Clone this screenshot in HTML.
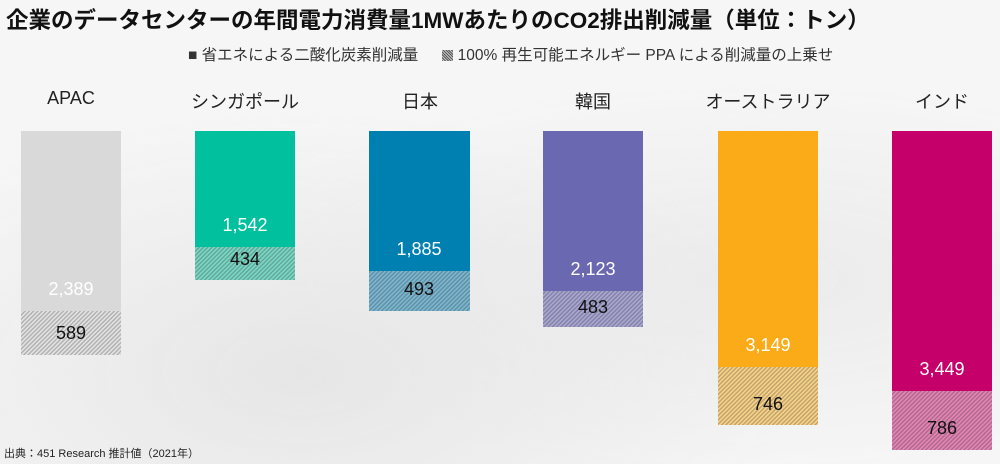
<!DOCTYPE html>
<html><head><meta charset="utf-8"><style>
body{margin:0;width:1000px;height:464px;overflow:hidden;font-family:"Liberation Sans","Noto Sans CJK JP",sans-serif;
background:radial-gradient(ellipse at 30% 80%,#e6e6e6,transparent 50%),radial-gradient(ellipse at 75% 60%,#ebebeb,transparent 50%),#f6f6f6;position:relative}
.t{position:absolute;white-space:nowrap}
.lab{position:absolute;width:100px;text-align:center;font-size:18px}
.cat{position:absolute;width:160px;text-align:center;font-size:18px;color:#222;top:88px}
</style></head><body>
<div class="t" style="left:6px;top:3px;font-size:22.5px;font-weight:bold;color:#111">企業のデータセンターの年間電力消費量1MWあたりのCO2排出削減量（単位：トン）</div>
<div class="t" style="left:188px;top:43px;font-size:15.5px;color:#333">■ 省エネによる二酸化炭素削減量　&nbsp;&nbsp;<span style="display:inline-block;width:11px;height:11px;background:repeating-linear-gradient(45deg,#555 0 1px,#ccc 1px 2px);vertical-align:-1px"></span> 100% 再生可能エネルギー PPA による削減量の上乗せ</div>
<div class="t" style="left:4px;top:445px;font-size:11px;color:#222">出典：451 Research 推計値（2021年）</div>
<svg width="1000" height="464" style="position:absolute;left:0;top:0">
<defs>
<pattern id="h" width="3" height="3" patternUnits="userSpaceOnUse" patternTransform="rotate(45)"><rect width="1.5" height="3" fill="#000" fill-opacity="0.22"/></pattern>
</defs>
<g>
<rect x="21" y="131" width="100" height="180" fill="#d9d9d9"/><rect x="21" y="311" width="100" height="44" fill="#e4e4e4"/><rect x="21" y="311" width="100" height="44" fill="url(#h)"/>
<rect x="195" y="131" width="100" height="116" fill="#00c09e"/><rect x="195" y="247" width="100" height="33" fill="#7dd8c6"/><rect x="195" y="247" width="100" height="33" fill="url(#h)"/>
<rect x="369" y="131" width="101" height="140" fill="#0080b0"/><rect x="369" y="271" width="101" height="40" fill="#7db8d2"/><rect x="369" y="271" width="101" height="40" fill="url(#h)"/>
<rect x="543" y="131" width="100" height="160" fill="#6a68b0"/><rect x="543" y="291" width="100" height="36" fill="#aaa8d4"/><rect x="543" y="291" width="100" height="36" fill="url(#h)"/>
<rect x="718" y="131" width="100" height="236" fill="#fbab18"/><rect x="718" y="367" width="100" height="58" fill="#f8d38a"/><rect x="718" y="367" width="100" height="58" fill="url(#h)"/>
<rect x="892" y="131" width="100" height="260" fill="#c6006a"/><rect x="892" y="391" width="100" height="59" fill="#e487b6"/><rect x="892" y="391" width="100" height="59" fill="url(#h)"/>
</g></svg>
<div class="cat" style="left:-9px">APAC</div>
<div class="cat" style="left:165px">シンガポール</div>
<div class="cat" style="left:340px">日本</div>
<div class="cat" style="left:513px">韓国</div>
<div class="cat" style="left:688px">オーストラリア</div>
<div class="cat" style="left:862px">インド</div>
<div class="lab" style="left:21px;top:279px;color:#fff">2,389</div>
<div class="lab" style="left:21px;top:323px;color:#111">589</div>
<div class="lab" style="left:195px;top:215px;color:#fff">1,542</div>
<div class="lab" style="left:195px;top:249px;color:#111">434</div>
<div class="lab" style="left:369px;top:239px;color:#fff">1,885</div>
<div class="lab" style="left:369px;top:279px;color:#111">493</div>
<div class="lab" style="left:543px;top:259px;color:#fff">2,123</div>
<div class="lab" style="left:543px;top:297px;color:#111">483</div>
<div class="lab" style="left:718px;top:335px;color:#fff">3,149</div>
<div class="lab" style="left:718px;top:394px;color:#111">746</div>
<div class="lab" style="left:892px;top:359px;color:#fff">3,449</div>
<div class="lab" style="left:892px;top:418px;color:#111">786</div>
</body></html>
